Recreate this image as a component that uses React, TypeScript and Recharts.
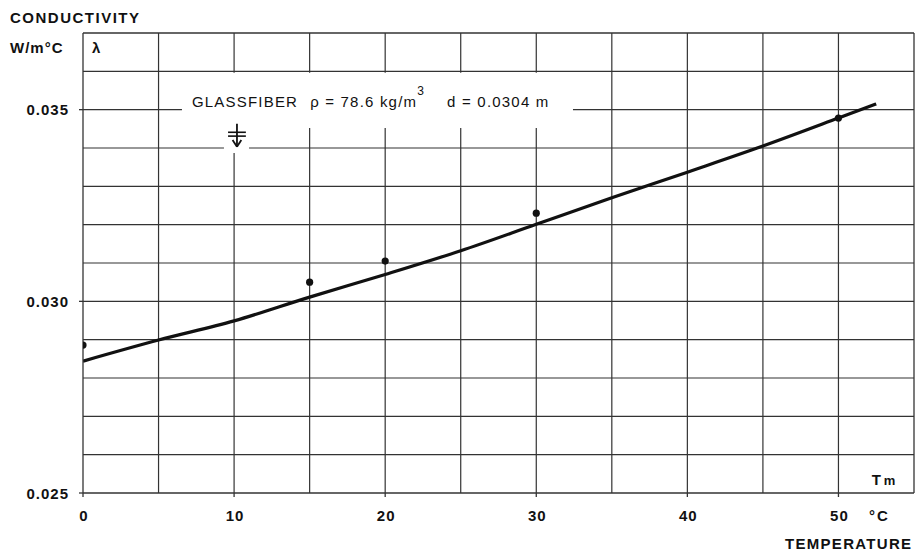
import React from 'react';
import {
  ComposedChart,
  Line,
  Scatter,
  XAxis,
  YAxis,
  ReferenceLine,
  ReferenceDot,
  Customized,
} from 'recharts';

// fitted curve
const curveTemps = [0, 5, 10, 15, 20, 25, 30, 35, 40, 45, 50, 52.5];
const curveK = [0.02844, 0.02899, 0.02949, 0.03011, 0.0307, 0.03132, 0.03201, 0.0327, 0.03337, 0.03405, 0.03478, 0.03515];
// measured points
const measuredTemps = [0, 15, 20, 30, 50];
const measuredK = [0.02886, 0.0305, 0.03105, 0.0323, 0.03478];

const xTicks = [0, 10, 20, 30, 40, 50];
const yTicks = [0.025, 0.03, 0.035];
const xGrid = [5, 10, 15, 20, 25, 30, 35, 40, 45, 50];
const yGrid = [0.026, 0.027, 0.028, 0.029, 0.03, 0.031, 0.032, 0.033, 0.034, 0.035, 0.036];
const xDomain: [number, number] = [0, 55];
const yDomain: [number, number] = [0.025, 0.037];

// annotation band (blank region behind the label) in data units
const bandX = [6.55, 32.43];
const bandY = [0.03452, 0.03596];
const symbolGapX = [9.33, 10.99];
const symbolGapBottom = 0.03387;

const curveData = curveTemps.map((t, i) => ({ t, k: curveK[i] }));
const pointData = measuredTemps.map((t, i) => ({ t, k: measuredK[i] }));

const FONT = '"Liberation Sans", Arial, sans-serif';
const INK = '#111';
const GRID = '#333';

const near = (a: number, b: number) => Math.abs(a - b) < 1e-7;

function hSegments(y: number): [number, number][] {
  if (near(y, 0.035)) return [[xDomain[0], bandX[0]], [bandX[1], xDomain[1]]];
  if (near(y, 0.034)) return [[xDomain[0], symbolGapX[0]], [symbolGapX[1], xDomain[1]]];
  return [[xDomain[0], xDomain[1]]];
}
function vSegments(x: number): [number, number][] {
  if (near(x, 10)) return [[yDomain[0], symbolGapBottom], [bandY[1], yDomain[1]]];
  if (x > bandX[0] && x < bandX[1]) return [[yDomain[0], bandY[0]], [bandY[1], yDomain[1]]];
  return [[yDomain[0], yDomain[1]]];
}

const YTick = (props: any) => {
  const { x, y, payload } = props;
  return (
    <text x={x} y={y} dy={5.5} textAnchor="end" fontFamily={FONT} fontWeight={700} fontSize={15} letterSpacing={1} fill={INK}>
      {Number(payload.value).toFixed(3)}
    </text>
  );
};

const XTick = (props: any) => {
  const { x, y, payload } = props;
  return (
    <text x={x + 1} y={y} dy={22} textAnchor="middle" fontFamily={FONT} fontWeight={700} fontSize={15} letterSpacing={1} fill={INK}>
      {payload.value}
    </text>
  );
};

const OuterTexts = () => (
  <g fontFamily={FONT} fontWeight={700} fill={INK}>
    <text x={10} y={23} fontSize={15} letterSpacing={1.5}>CONDUCTIVITY</text>
    <text x={10} y={53} fontSize={15} letterSpacing={1}>W/m°C</text>
    <text x={869} y={521} fontSize={15} letterSpacing={2}>°C</text>
    <text x={785} y={549} fontSize={15} letterSpacing={1.3}>TEMPERATURE</text>
  </g>
);

const Lambda = (p: any) => (
  <text x={p.cx} y={p.cy} fontFamily={FONT} fontWeight={700} fontSize={15} fill={INK}>λ</text>
);
const Tm = (p: any) => (
  <text x={p.cx} y={p.cy} fontFamily={FONT} fontWeight={700} fontSize={15} fill={INK}>
    T<tspan dx={3} fontSize={13}>m</tspan>
  </text>
);
const Annotation = (p: any) => (
  <text x={p.cx} y={p.cy} fontFamily={FONT} fontSize={15} letterSpacing={1.2} fill={INK}>
    GLASSFIBER
    <tspan dx={12}>ρ = 78.6 kg/m</tspan>
    <tspan dy={-12} fontSize={12}>3</tspan>
    <tspan dy={12} dx={22}>d = 0.0304 m</tspan>
  </text>
);

const Dot = (p: any) => <circle cx={p.cx} cy={p.cy} r={3.6} fill={INK} />;

export default function App() {
  return (
    <div style={{ position: 'absolute', left: 0, top: 0, width: 918, height: 552, background: '#fff' }}>
      <ComposedChart width={918} height={552} margin={{ top: 33, right: 4, bottom: 0, left: 0 }}>
        <XAxis
          type="number"
          dataKey="t"
          domain={xDomain}
          ticks={xTicks}
          allowDataOverflow
          height={59}
          tickSize={4}
          tickMargin={2}
          axisLine={{ stroke: GRID, strokeWidth: 1.3 }}
          tickLine={{ stroke: GRID, strokeWidth: 1.3 }}
          tick={<XTick />}
        />
        <YAxis
          type="number"
          dataKey="k"
          domain={yDomain}
          ticks={yTicks}
          allowDataOverflow
          width={83}
          tickSize={4}
          tickMargin={10}
          axisLine={{ stroke: GRID, strokeWidth: 1.3 }}
          tickLine={{ stroke: GRID, strokeWidth: 1.3 }}
          tick={<YTick />}
        />
        {yGrid.flatMap((y) =>
          hSegments(y).map((s, i) => (
            <ReferenceLine
              key={`h${y}-${i}`}
              segment={[{ x: s[0], y }, { x: s[1], y }]}
              stroke={GRID}
              strokeWidth={1.2}
            />
          ))
        )}
        {xGrid.flatMap((x) =>
          vSegments(x).map((s, i) => (
            <ReferenceLine
              key={`v${x}-${i}`}
              segment={[{ x, y: s[0] }, { x, y: s[1] }]}
              stroke={GRID}
              strokeWidth={1.2}
            />
          ))
        )}
        <ReferenceLine y={yDomain[1]} stroke={GRID} strokeWidth={1.3} />
        <ReferenceLine x={xDomain[1]} stroke={GRID} strokeWidth={1.3} />
        {/* water-level symbol */}
        <ReferenceLine segment={[{ x: 9.6, y: 0.03441 }, { x: 10.78, y: 0.03441 }]} stroke={INK} strokeWidth={1.6} />
        <ReferenceLine segment={[{ x: 9.6, y: 0.03431 }, { x: 10.78, y: 0.03431 }]} stroke={INK} strokeWidth={1.6} />
        <ReferenceLine segment={[{ x: 10.19, y: 0.03463 }, { x: 10.19, y: 0.03403 }]} stroke={INK} strokeWidth={1.8} />
        <ReferenceLine segment={[{ x: 9.9, y: 0.03421 }, { x: 10.19, y: 0.03403 }]} stroke={INK} strokeWidth={1.8} />
        <ReferenceLine segment={[{ x: 10.48, y: 0.03421 }, { x: 10.19, y: 0.03403 }]} stroke={INK} strokeWidth={1.8} />
        <ReferenceDot x={0.6} y={0.03648} r={0} shape={<Lambda />} />
        <ReferenceDot x={52.2} y={0.02521} r={0} shape={<Tm />} />
        <ReferenceDot x={7.21} y={0.03507} r={0} shape={<Annotation />} />
        <Line
          data={curveData}
          dataKey="k"
          type="monotone"
          stroke={INK}
          strokeWidth={3.2}
          dot={false}
          activeDot={false}
          isAnimationActive={false}
        />
        <Scatter data={pointData} dataKey="k" shape={<Dot />} isAnimationActive={false} />
        <Customized component={<OuterTexts />} />
      </ComposedChart>
    </div>
  );
}
